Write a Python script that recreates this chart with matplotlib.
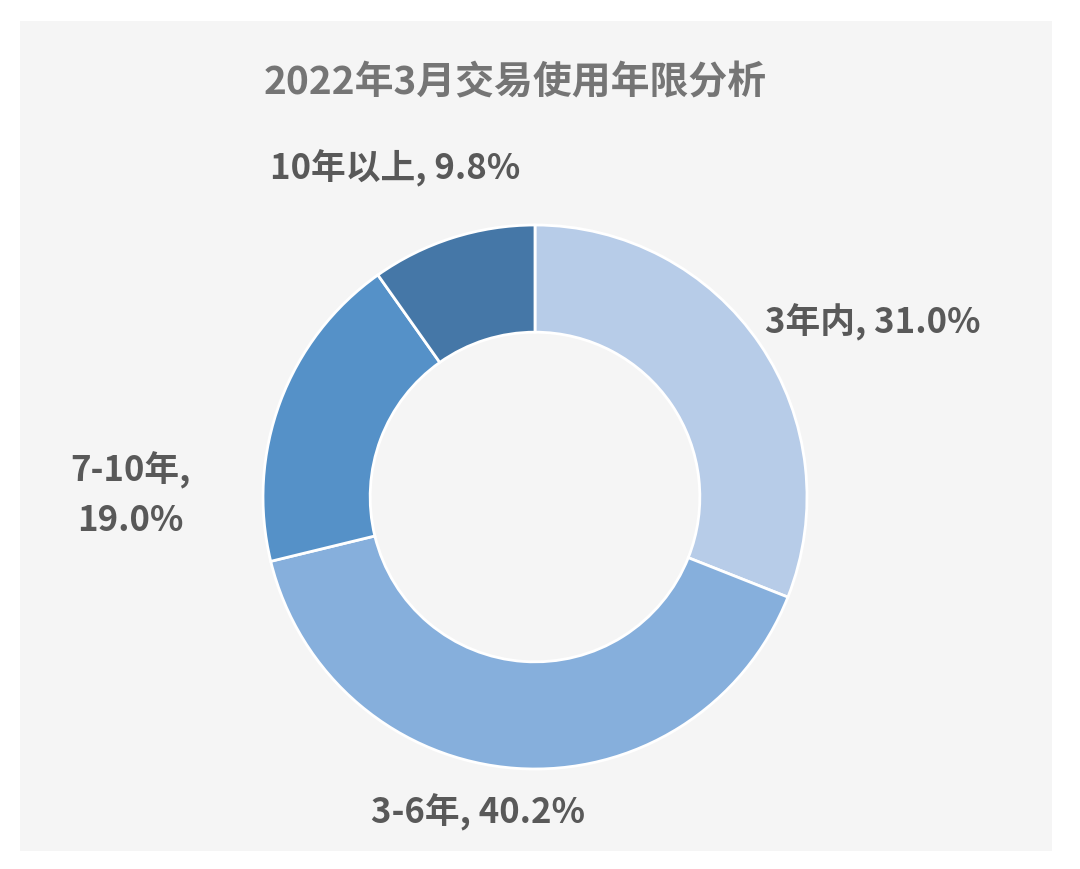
import matplotlib
matplotlib.use("Agg")
import matplotlib.pyplot as plt
from matplotlib.patches import Rectangle

plt.rcParams['font.family'] = ['Noto Sans CJK SC', 'DejaVu Sans']

title = "2022年3月交易使用年限分析"
categories = ["3年内", "3-6年", "7-10年", "10年以上"]
values = [31.0, 40.2, 19.0, 9.8]
colors = ["#b7cce8", "#86afdc", "#5591c8", "#4577a7"]

W, H = 1080, 870
fig = plt.figure(figsize=(W / 100, H / 100), dpi=100)
fig.patch.set_facecolor("white")
fig.add_artist(Rectangle((20 / W, 1 - 852 / H), (1052 - 20) / W, (852 - 22) / H,
                         transform=fig.transFigure, facecolor="#f5f5f5",
                         edgecolor="none", zorder=-10))

cx, cy, r = 535, 498, 272
ax = fig.add_axes([(cx - r) / W, (H - cy - r) / H, 2 * r / W, 2 * r / H])
ax.set_zorder(5)
ax.set_xlim(-1, 1)
ax.set_ylim(-1, 1)
ax.set_aspect("equal")
ax.axis("off")

ax.pie(values, colors=colors, startangle=90, counterclock=False, radius=1,
       wedgeprops=dict(width=0.394, edgecolor="white", linewidth=2))
ax.set_xlim(-1, 1)
ax.set_ylim(-1, 1)

def to_data(px, py):
    return (px - cx) / r, (cy - py) / r

label_pos = [(873, 322), (478, 812), (130, 495), (395, 168)]
label_text = [
    f"{categories[0]}, {values[0]:.1f}%",
    f"{categories[1]}, {values[1]:.1f}%",
    f"{categories[2]},\n{values[2]:.1f}%",
    f"{categories[3]}, {values[3]:.1f}%",
]
for (px, py), t in zip(label_pos, label_text):
    x, y = to_data(px, py)
    ax.text(x, y, t, ha="center", va="center", fontsize=25, fontweight="bold",
            color="#595959", linespacing=1.5, multialignment="center", clip_on=False)

fig.text(515 / W, 1 - 83 / H, title, ha="center", va="center", fontsize=28,
         fontweight="bold", color="#757575", zorder=6)

fig.savefig("out.png", dpi=100, facecolor=fig.get_facecolor())
